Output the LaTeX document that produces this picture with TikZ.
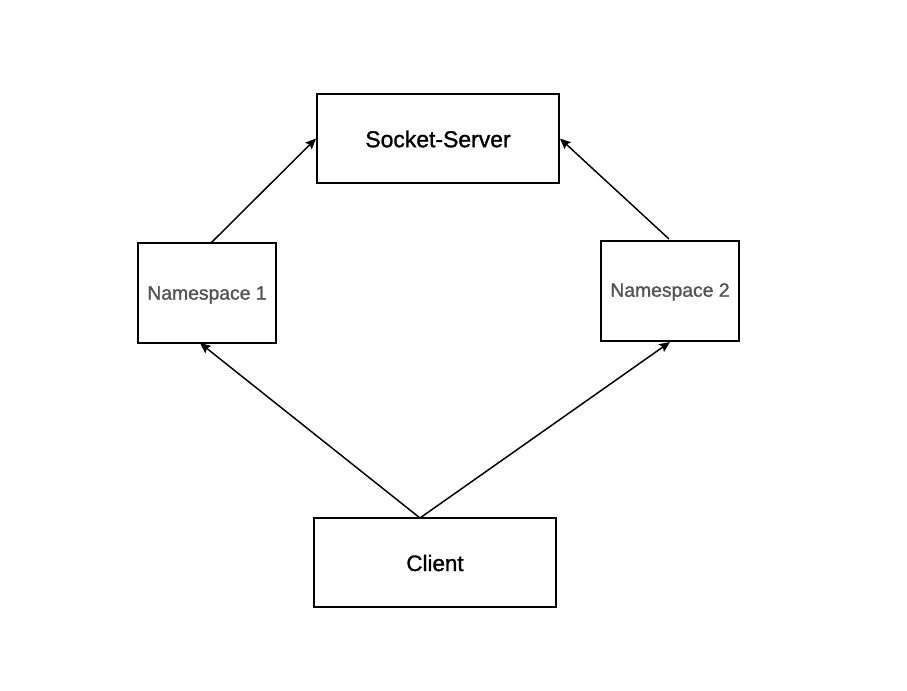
\documentclass[tikz,border=0pt]{standalone}
\usepackage{fontspec}
\setmainfont{Liberation Sans}
\newfontfamily\medfont[FakeBold=1.2]{Liberation Sans}
\usetikzlibrary{arrows.meta}
\begin{document}
\begin{tikzpicture}[x=0.75pt,y=-0.75pt,
  box/.style={draw=black,line width=1.5pt,inner sep=0pt,anchor=center},
  conn/.style={draw=black,line width=1.1pt,-{Stealth[length=8pt,width=7pt,inset=1.5pt]}},
  lbl/.style={anchor=center,inner sep=0pt}]
\useasboundingbox[fill=white] (0,0) rectangle (907,691);
\node[box,minimum width=181.5pt,minimum height=66.75pt] (ss) at (438,138.5) {};
\node[box,minimum width=103.5pt,minimum height=75pt] (n1) at (207,293) {};
\node[box,minimum width=103.5pt,minimum height=75pt] (n2) at (670,291) {};
\node[box,minimum width=181.5pt,minimum height=66.75pt] (cl) at (435,562.5) {};
\node[lbl,font=\medfont\fontsize{17.2}{20}\selectfont] (sst) at (438,139) {Socket-Server};
\node[lbl,text=black!67,font=\medfont\fontsize{14.5}{17}\selectfont] (n1t) at (207,295) {Namespace 1};
\node[lbl,text=black!67,font=\medfont\fontsize{14.5}{17}\selectfont] (n2t) at (670,292) {Namespace 2};
\node[lbl,font=\medfont\fontsize{16.8}{20}\selectfont] (clt) at (435,563) {Client};
\coordinate (n1top) at (211,243);
\coordinate (n2top) at (669,239);
\coordinate (cltop) at (420,518);
\coordinate (n1bot) at (200,343);
\draw[conn] (n1top) -- (ss.west);
\draw[conn] (n2top) -- (ss.east);
\draw[conn] (cltop) -- (n1bot);
\draw[conn] (cltop) -- (n2.south);
\end{tikzpicture}
\end{document}
